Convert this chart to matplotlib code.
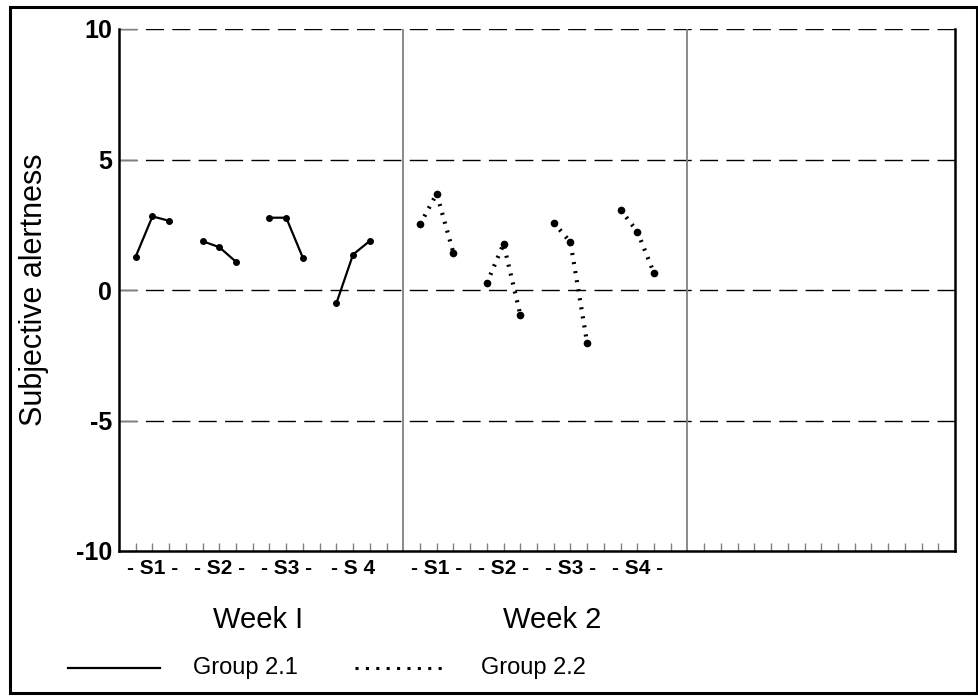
import matplotlib
matplotlib.use("Agg")
import matplotlib.pyplot as plt
from matplotlib.lines import Line2D
from matplotlib.patches import Rectangle
from matplotlib.transforms import blended_transform_factory

plt.rcParams['font.family'] = ['Liberation Sans', 'DejaVu Sans']

# session x positions and values (three readings per session)
g1_x = [[1, 2, 3], [5, 6, 7], [9, 10, 11], [13, 14, 15]]
g1_y = [[1.28, 2.82, 2.65], [1.87, 1.64, 1.08], [2.77, 2.77, 1.23], [-0.51, 1.36, 1.88]]
g2_x = [[18, 19, 20], [22, 23, 24], [26, 27, 28], [30, 31, 32]]
g2_y = [[2.51, 3.69, 1.42], [0.26, 1.77, -0.95], [2.58, 1.83, -2.04], [3.07, 2.24, 0.64]]

session_pos = [2, 6, 10, 14, 19, 23, 27, 31]
session_labels = ["- S1 -", "- S2 -", "- S3 -", "- S 4", "- S1 -", "- S2 -", "- S3 -", "- S4 -"]
week_pos = [8.3, 25.9]
week_labels = ["Week I", "Week 2"]
week_bounds = [17, 34]
yticks = [-10, -5, 0, 5, 10]
legend_labels = ["Group 2.1", "Group 2.2"]

fig = plt.figure(figsize=(9.79, 6.96), dpi=100)
ax = fig.add_axes([119 / 979, 1 - 551 / 696, (955 - 119) / 979, (551 - 29) / 696])
ax.set_xlim(0, 50)
ax.set_ylim(-10, 10)

# dashed reference lines
for y in yticks[1:]:
    ax.axhline(y, color='black', lw=1.0, linestyle=(0, (13, 6)), zorder=1)

# week separators
for xb in week_bounds:
    ax.axvline(xb, color='#808080', lw=1.3, zorder=1)

dot = (0, (0.5, 1.7))
for xs, ys in zip(g1_x, g1_y):
    ax.plot(xs, ys, color='black', lw=1.6, marker='o', ms=4, zorder=3)
for xs, ys in zip(g2_x, g2_y):
    ax.plot(xs, ys, color='black', lw=3.0, linestyle=dot, zorder=3)
    ax.plot(xs, ys, linestyle='none', color='black', marker='o', ms=4.5, zorder=4)

# spines
ax.spines['top'].set_visible(False)
for s in ['left', 'bottom', 'right']:
    ax.spines[s].set_linewidth(1.8)
    ax.spines[s].set_color('black')

# ticks
ax.set_yticks(yticks)
ax.set_yticklabels([str(v) for v in yticks], fontweight='bold')
ax.tick_params(axis='y', direction='in', length=13, width=1, color='#808080',
               labelsize=18, pad=5)
major_x = [v for v in range(1, 50) if v not in week_bounds]
ax.set_xticks(major_x)
ax.set_xticklabels([])
ax.tick_params(axis='x', which='major', direction='in', length=6, width=1, color='#808080')
ax.tick_params(right=False, top=False)

tr = blended_transform_factory(ax.transData, fig.transFigure)
for xp, lab in zip(session_pos, session_labels):
    ax.text(xp, 1 - 568 / 696, lab, transform=tr, ha='center', va='center',
            fontsize=15, fontweight='bold')
for xp, lab in zip(week_pos, week_labels):
    ax.text(xp, 1 - 620 / 696, lab, transform=tr, ha='center', va='center', fontsize=21)

ax.set_ylabel("Subjective alertness", fontsize=22, labelpad=19)

# legend drawn in figure pixels
def fx(px):
    return px / 979

ly = 1 - 668 / 696
fig.add_artist(Line2D([fx(68), fx(160)], [ly, ly], color='black', lw=1.6))
fig.text(fx(193), ly, legend_labels[0], va='center', ha='left', fontsize=17)
fig.add_artist(Line2D([fx(355), fx(448)], [ly, ly], color='black', lw=2.2, linestyle=(0, (1, 2.4))))
fig.text(fx(481), ly, legend_labels[1], va='center', ha='left', fontsize=17)

# outer frame
fig.add_artist(Rectangle((10 / 979, 1 - 693 / 696), 967 / 979, 686 / 696,
                         transform=fig.transFigure, fill=False, ec='black', lw=2.2))

fig.savefig("out.png", dpi=100)
